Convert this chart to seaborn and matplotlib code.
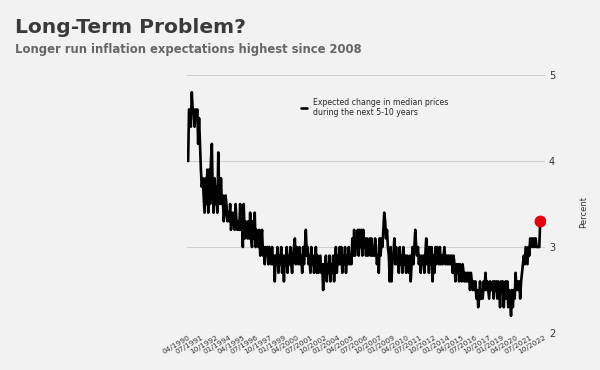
import numpy as np
import pandas as pd
import matplotlib
matplotlib.use("Agg")
import matplotlib.pyplot as plt
import matplotlib.dates as mdates
import seaborn as sns

sns.set_theme(style="white")
plt.rcParams["font.family"] = ["DejaVu Sans"]

# Monthly values, starting 04/1990 and ending 06/2022
v1990 = [4.0, 4.6, 4.6, 4.4, 4.8, 4.6, 4.6, 4.4, 4.6]
v1991 = [4.5, 4.6, 4.2, 4.5, 4.2, 3.9, 3.7, 3.8, 3.6, 3.4, 3.8, 3.5]
v1992 = [3.9, 3.4, 3.9, 3.5, 4.0, 4.2, 3.6, 3.4, 3.8, 3.5, 3.7, 3.4]
v1993 = [4.1, 3.6, 3.5, 3.8, 3.5, 3.6, 3.3, 3.4, 3.6, 3.5, 3.3, 3.4]
v1994 = [3.3, 3.5, 3.2, 3.3, 3.4, 3.3, 3.2, 3.5, 3.3, 3.2, 3.3, 3.2]
v1995 = [3.5, 3.2, 3.3, 3.0, 3.5, 3.1, 3.3, 3.2, 3.1, 3.3, 3.1, 3.4]
v1996 = [3.1, 3.0, 3.3, 3.1, 3.4, 3.0, 3.2, 3.1, 3.0, 3.2, 2.9, 3.1]
v1997 = [3.2, 2.9, 3.0, 2.8, 3.0, 2.9, 3.0, 2.8, 3.0, 2.9, 2.8, 3.0]
v1998 = [2.8, 2.9, 2.6, 2.9, 2.8, 3.0, 2.7, 2.9, 2.8, 3.0, 2.7, 2.9]
v1999 = [2.6, 2.9, 2.8, 3.0, 2.7, 2.9, 2.8, 3.0, 2.8, 2.7, 2.9, 3.0]
v2000 = [3.1, 2.8, 3.0, 2.9, 2.8, 3.0, 2.8, 2.9, 2.7, 3.0, 2.8, 3.0]
v2001 = [3.2, 2.9, 3.0, 2.8, 2.9, 2.7, 3.0, 2.8, 2.9, 2.7, 2.8, 3.0]
v2002 = [2.7, 2.9, 2.7, 2.8, 2.9, 2.7, 2.8, 2.5, 2.8, 2.7, 2.9, 2.6]
v2003 = [2.8, 2.7, 2.9, 2.6, 2.8, 2.7, 2.9, 2.6, 2.8, 3.0, 2.7, 2.9]
v2004 = [2.8, 3.0, 2.8, 3.0, 2.7, 2.9, 2.8, 3.0, 2.7, 2.9, 2.8, 3.0]
v2005 = [2.8, 2.9, 2.8, 3.1, 2.9, 3.2, 2.9, 3.1, 3.0, 3.2, 2.9, 3.2]
v2006 = [3.0, 3.2, 2.9, 3.2, 3.0, 3.1, 2.9, 3.1, 2.9, 3.0, 3.1, 2.9]
v2007 = [3.1, 2.9, 3.0, 2.9, 3.1, 3.0, 2.8, 2.9, 2.7, 3.1, 2.9, 3.1]
v2008 = [3.0, 3.2, 3.4, 3.3, 3.1, 3.2, 3.0, 2.9, 2.6, 3.0, 2.6, 2.9]
v2009 = [2.9, 3.1, 2.8, 3.0, 2.8, 2.9, 2.7, 3.0, 2.8, 2.9, 2.7, 3.0]
v2010 = [2.8, 2.9, 2.7, 2.9, 2.8, 2.7, 2.9, 2.6, 2.8, 3.0, 2.8, 3.0]
v2011 = [3.2, 3.0, 2.9, 3.0, 2.8, 2.9, 2.7, 2.9, 2.8, 2.9, 2.7, 2.9]
v2012 = [3.1, 2.8, 3.0, 2.7, 3.0, 2.8, 3.0, 2.6, 2.9, 2.7, 3.0, 2.8]
v2013 = [3.0, 2.9, 2.8, 3.0, 2.8, 2.9, 2.8, 2.9, 3.0, 2.8, 2.9, 2.8]
v2014 = [2.9, 2.8, 2.9, 2.8, 2.9, 2.7, 2.9, 2.8, 2.6, 2.8, 2.7, 2.8]
v2015 = [2.6, 2.8, 2.7, 2.6, 2.8, 2.7, 2.6, 2.7, 2.6, 2.7, 2.6, 2.7]
v2016 = [2.5, 2.7, 2.6, 2.5, 2.6, 2.5, 2.6, 2.4, 2.5, 2.3, 2.4, 2.6]
v2017 = [2.4, 2.5, 2.4, 2.6, 2.5, 2.7, 2.5, 2.6, 2.5, 2.4, 2.6, 2.5]
v2018 = [2.5, 2.6, 2.4, 2.6, 2.5, 2.6, 2.4, 2.6, 2.5, 2.3, 2.6, 2.5]
v2019 = [2.6, 2.3, 2.5, 2.6, 2.4, 2.6, 2.3, 2.5, 2.4, 2.2, 2.5, 2.3]
v2020 = [2.5, 2.4, 2.7, 2.5, 2.6, 2.5, 2.6, 2.4, 2.6, 2.7, 2.8, 2.9]
v2021 = [2.8, 3.0, 2.9, 2.8, 3.0, 2.9, 3.1, 3.0, 3.1, 3.0, 3.1, 3.0]
v2022 = [3.1, 3.0, 3.0, 3.0, 3.0, 3.3]

values = (v1990 + v1991 + v1992 + v1993 + v1994 + v1995 + v1996 + v1997 + v1998
          + v1999 + v2000 + v2001 + v2002 + v2003 + v2004 + v2005 + v2006 + v2007
          + v2008 + v2009 + v2010 + v2011 + v2012 + v2013 + v2014 + v2015 + v2016
          + v2017 + v2018 + v2019 + v2020 + v2021 + v2022)
start_month = "1990-04-01"
tick_dates = pd.date_range("1990-04-01", "2022-10-01", freq="15MS")
y_ticks = [2, 3, 4, 5]
series_label = "Expected change in median prices\nduring the next 5-10 years"

dates = pd.date_range(start_month, periods=len(values), freq="MS")
df = pd.DataFrame({"date": dates, "value": values})

bg = "#f2f2f2"
fig = plt.figure(figsize=(6, 3.7), dpi=100, facecolor=bg)
ax = fig.add_axes([0.312, 0.10, 0.596, 0.697])
ax.set_facecolor(bg)

sns.lineplot(data=df, x="date", y="value", ax=ax, color="black", lw=1.9,
             label=series_label)
ax.plot(df["date"].iloc[-1], df["value"].iloc[-1], "o", color="#e8000b",
        ms=7.5, zorder=5)

ax.set_ylim(2, 5)
ax.set_yticks(y_ticks)
ax.set_xlim(pd.Timestamp("1990-03-01"), pd.Timestamp("2022-11-01"))
ax.set_xticks(tick_dates)
ax.xaxis.set_major_formatter(mdates.DateFormatter("%m/%Y"))
for lab in ax.get_xticklabels():
    lab.set_rotation(30)
    lab.set_ha("right")
    lab.set_rotation_mode("anchor")
ax.tick_params(axis="x", labelsize=5.3, colors="#333333", length=0, pad=1)
ax.yaxis.tick_right()
ax.yaxis.set_label_position("right")
ax.tick_params(axis="y", labelsize=7, colors="#333333", length=0, pad=3)
ax.grid(axis="y", color="#d0d0d0", lw=0.8)
ax.grid(axis="x", visible=False)
for s in ax.spines.values():
    s.set_visible(False)
ax.set_xlabel("")
ax.set_ylabel("Percent", fontsize=6, color="#333333", labelpad=14)
ax.yaxis.set_label_coords(1.095, 0.47)

ax.legend(loc="upper left", bbox_to_anchor=(0.49, 0.755),
          bbox_transform=fig.transFigure, frameon=False, fontsize=5.6,
          handlelength=0.8, handletextpad=0.8, labelspacing=0.1)

fig.text(0.025, 0.912, "Long-Term Problem?", fontsize=14.6, fontweight="bold",
         color="#3a3a3a", ha="left", va="baseline")
fig.text(0.025, 0.857, "Longer run inflation expectations highest since 2008",
         fontsize=8.4, fontweight="bold", color="#666666", ha="left",
         va="baseline")

fig.savefig("out.png", dpi=100, facecolor=bg)
